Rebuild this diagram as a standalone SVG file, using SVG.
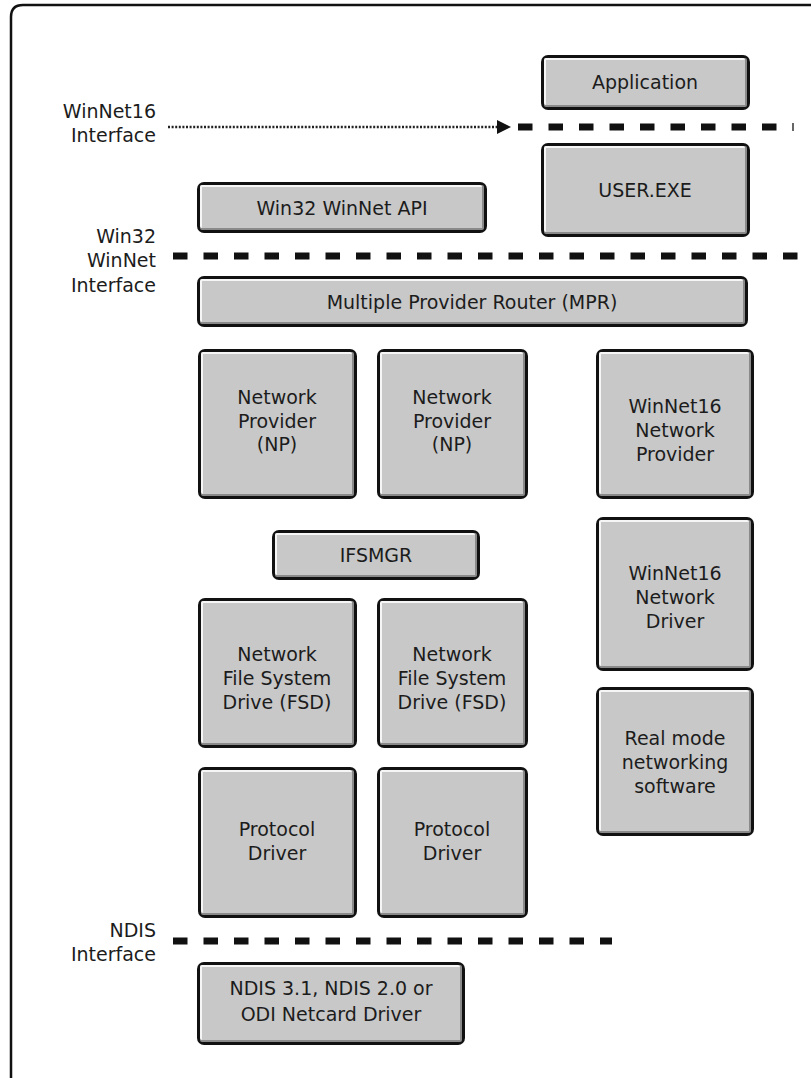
<svg xmlns="http://www.w3.org/2000/svg" width="811" height="1078" viewBox="0 0 811 1078">
  <style>
    text { font-family: "DejaVu Sans", "Liberation Sans", sans-serif; font-size: 19px; fill: #1c1c1c; }
    .c { text-anchor: middle; }
    .r { text-anchor: end; }
    .edge { fill: #111; }
    .lo { fill: #8a8a8a; }
    .hi { fill: #f6f6f6; }
    .face { fill: #c8c8c8; }
    .frame { fill: none; stroke: #111; stroke-width: 2.5; }
    .dash { stroke: #111; stroke-width: 7; stroke-dasharray: 14.5 16; fill: none; }
    .dots { stroke: #222; stroke-width: 2.5; stroke-dasharray: 2 1.6; fill: none; }
  </style>

  <!-- outer frame -->
  <path class="frame" d="M11 1078 V17 Q11 5 23 5 H811"/>

  <!-- interface labels -->
  <g id="label-winnet16">
    <text class="r" x="156" y="118">WinNet16</text>
    <text class="r" x="156" y="142">Interface</text>
  </g>
  <g id="label-win32">
    <text class="r" x="156" y="243">Win32</text>
    <text class="r" x="156" y="267">WinNet</text>
    <text class="r" x="156" y="292">Interface</text>
  </g>
  <g id="label-ndis">
    <text class="r" x="156" y="937">NDIS</text>
    <text class="r" x="156" y="961">Interface</text>
  </g>

  <!-- interface boundaries and call path -->
  <g id="connectors">
    <line class="dots" x1="168" y1="127" x2="498" y2="127"/>
    <polygon points="497,120 511,127 497,134" fill="#111"/>
    <line class="dash" x1="518" y1="127" x2="778" y2="127"/>
    <line x1="793" y1="123" x2="793" y2="131" stroke="#333" stroke-width="1.5"/>
    <line class="dash" x1="173" y1="256" x2="811" y2="256"/>
    <line class="dash" x1="173" y1="941" x2="612" y2="941"/>
  </g>

  <!-- boxes: black edge, dark lower/right bevel, light upper/left bevel, grey face -->
  <g id="application">
    <rect class="edge" x="541" y="55" width="209" height="55" rx="7"/>
    <rect class="lo" x="544" y="58" width="203" height="49" rx="2"/>
    <rect class="hi" x="544" y="58" width="201" height="47" rx="2"/>
    <rect class="face" x="546" y="60" width="199" height="45"/>
    <text class="c" x="645" y="89">Application</text>
  </g>

  <g id="user-exe">
    <rect class="edge" x="541" y="143" width="209" height="94" rx="7"/>
    <rect class="lo" x="544" y="146" width="203" height="88" rx="2"/>
    <rect class="hi" x="544" y="146" width="201" height="86" rx="2"/>
    <rect class="face" x="546" y="148" width="199" height="84"/>
    <text class="c" x="645" y="197">USER.EXE</text>
  </g>

  <g id="win32-api">
    <rect class="edge" x="197" y="182" width="290" height="51" rx="7"/>
    <rect class="lo" x="200" y="185" width="284" height="45" rx="2"/>
    <rect class="hi" x="200" y="185" width="282" height="43" rx="2"/>
    <rect class="face" x="202" y="187" width="280" height="41"/>
    <text class="c" x="342" y="215">Win32 WinNet API</text>
  </g>

  <g id="mpr">
    <rect class="edge" x="197" y="276" width="551" height="51" rx="7"/>
    <rect class="lo" x="200" y="279" width="545" height="45" rx="2"/>
    <rect class="hi" x="200" y="279" width="543" height="43" rx="2"/>
    <rect class="face" x="202" y="281" width="541" height="41"/>
    <text class="c" x="472" y="309">Multiple Provider Router (MPR)</text>
  </g>

  <g id="np-1">
    <rect class="edge" x="198" y="349" width="159" height="150" rx="7"/>
    <rect class="lo" x="201" y="352" width="153" height="144" rx="2"/>
    <rect class="hi" x="201" y="352" width="151" height="142" rx="2"/>
    <rect class="face" x="203" y="354" width="149" height="140"/>
    <text class="c" x="277" y="404">Network</text>
    <text class="c" x="277" y="428">Provider</text>
    <text class="c" x="277" y="451">(NP)</text>
  </g>

  <g id="np-2">
    <rect class="edge" x="377" y="349" width="151" height="150" rx="7"/>
    <rect class="lo" x="380" y="352" width="145" height="144" rx="2"/>
    <rect class="hi" x="380" y="352" width="143" height="142" rx="2"/>
    <rect class="face" x="382" y="354" width="141" height="140"/>
    <text class="c" x="452" y="404">Network</text>
    <text class="c" x="452" y="428">Provider</text>
    <text class="c" x="452" y="451">(NP)</text>
  </g>

  <g id="winnet16-provider">
    <rect class="edge" x="596" y="349" width="158" height="150" rx="7"/>
    <rect class="lo" x="599" y="352" width="152" height="144" rx="2"/>
    <rect class="hi" x="599" y="352" width="150" height="142" rx="2"/>
    <rect class="face" x="601" y="354" width="148" height="140"/>
    <text class="c" x="675" y="413">WinNet16</text>
    <text class="c" x="675" y="437">Network</text>
    <text class="c" x="675" y="461">Provider</text>
  </g>

  <g id="ifsmgr">
    <rect class="edge" x="272" y="530" width="208" height="50" rx="7"/>
    <rect class="lo" x="275" y="533" width="202" height="44" rx="2"/>
    <rect class="hi" x="275" y="533" width="200" height="42" rx="2"/>
    <rect class="face" x="277" y="535" width="198" height="40"/>
    <text class="c" x="376" y="562">IFSMGR</text>
  </g>

  <g id="winnet16-driver">
    <rect class="edge" x="596" y="517" width="158" height="154" rx="7"/>
    <rect class="lo" x="599" y="520" width="152" height="148" rx="2"/>
    <rect class="hi" x="599" y="520" width="150" height="146" rx="2"/>
    <rect class="face" x="601" y="522" width="148" height="144"/>
    <text class="c" x="675" y="580">WinNet16</text>
    <text class="c" x="675" y="604">Network</text>
    <text class="c" x="675" y="628">Driver</text>
  </g>

  <g id="fsd-1">
    <rect class="edge" x="198" y="598" width="159" height="150" rx="7"/>
    <rect class="lo" x="201" y="601" width="153" height="144" rx="2"/>
    <rect class="hi" x="201" y="601" width="151" height="142" rx="2"/>
    <rect class="face" x="203" y="603" width="149" height="140"/>
    <text class="c" x="277" y="661">Network</text>
    <text class="c" x="277" y="685">File System</text>
    <text class="c" x="277" y="709">Drive (FSD)</text>
  </g>

  <g id="fsd-2">
    <rect class="edge" x="377" y="598" width="151" height="150" rx="7"/>
    <rect class="lo" x="380" y="601" width="145" height="144" rx="2"/>
    <rect class="hi" x="380" y="601" width="143" height="142" rx="2"/>
    <rect class="face" x="382" y="603" width="141" height="140"/>
    <text class="c" x="452" y="661">Network</text>
    <text class="c" x="452" y="685">File System</text>
    <text class="c" x="452" y="709">Drive (FSD)</text>
  </g>

  <g id="real-mode">
    <rect class="edge" x="596" y="687" width="158" height="149" rx="7"/>
    <rect class="lo" x="599" y="690" width="152" height="143" rx="2"/>
    <rect class="hi" x="599" y="690" width="150" height="141" rx="2"/>
    <rect class="face" x="601" y="692" width="148" height="139"/>
    <text class="c" x="675" y="745">Real mode</text>
    <text class="c" x="675" y="769">networking</text>
    <text class="c" x="675" y="793">software</text>
  </g>

  <g id="protocol-1">
    <rect class="edge" x="198" y="767" width="159" height="151" rx="7"/>
    <rect class="lo" x="201" y="770" width="153" height="145" rx="2"/>
    <rect class="hi" x="201" y="770" width="151" height="143" rx="2"/>
    <rect class="face" x="203" y="772" width="149" height="141"/>
    <text class="c" x="277" y="836">Protocol</text>
    <text class="c" x="277" y="860">Driver</text>
  </g>

  <g id="protocol-2">
    <rect class="edge" x="377" y="767" width="151" height="151" rx="7"/>
    <rect class="lo" x="380" y="770" width="145" height="145" rx="2"/>
    <rect class="hi" x="380" y="770" width="143" height="143" rx="2"/>
    <rect class="face" x="382" y="772" width="141" height="141"/>
    <text class="c" x="452" y="836">Protocol</text>
    <text class="c" x="452" y="860">Driver</text>
  </g>

  <g id="ndis-driver">
    <rect class="edge" x="197" y="962" width="268" height="83" rx="7"/>
    <rect class="lo" x="200" y="965" width="262" height="77" rx="2"/>
    <rect class="hi" x="200" y="965" width="260" height="75" rx="2"/>
    <rect class="face" x="202" y="967" width="258" height="73"/>
    <text class="c" x="331" y="995">NDIS 3.1, NDIS 2.0 or</text>
    <text class="c" x="331" y="1021">ODI Netcard Driver</text>
  </g>
</svg>
